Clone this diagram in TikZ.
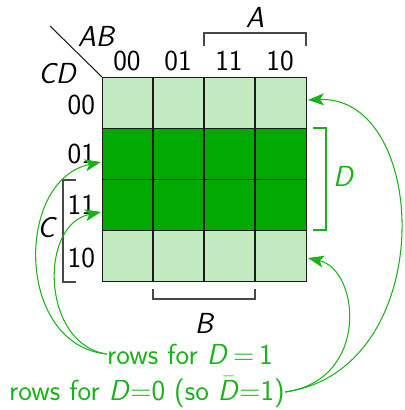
\documentclass[tikz,border=0pt]{standalone}
\usepackage{fontspec}
\renewcommand{\familydefault}{\sfdefault}
\usetikzlibrary{arrows.meta}
\definecolor{paleGreen}{HTML}{C2EBC2}
\definecolor{fullGreen}{HTML}{00AA00}
\definecolor{noteGreen}{HTML}{1AB21A}
\definecolor{gridInk}{HTML}{1A1A1A}

\tikzset{
  rowbox/.style={draw=gridInk, line width=0.6pt, minimum width=4.08cm,
    minimum height=1.02cm, inner sep=0pt, anchor=north west},
  label/.style={font=\fontsize{16.5}{20}\selectfont, inner sep=1pt},
  varname/.style={label, font=\fontsize{16.5}{20}\selectfont\itshape},
  note/.style={label, text=noteGreen, inner sep=0pt},
  bracket/.style={draw=gridInk!80, line width=0.6pt},
  pointer/.style={draw=noteGreen, line width=0.6pt,
    -{Stealth[length=3.2mm, width=2.4mm, inset=0.8mm]}}
}

\begin{document}
\begin{tikzpicture}[x=0.02cm, y=-0.02cm]
\useasboundingbox (0,0) rectangle (405,410);

% rows of the map
\node[rowbox, fill=paleGreen] (row00) at (102,77) {};
\node[rowbox, fill=fullGreen] (row01) at (102,128) {};
\node[rowbox, fill=fullGreen] (row11) at (102,179) {};
\node[rowbox, fill=paleGreen] (row10) at (102,230) {};
\draw[gridInk, line width=0.6pt] (153,77) -- (153,281) (204,77) -- (204,281) (255,77) -- (255,281);

% corner
\draw[gridInk, line width=0.6pt] (50,26) -- (row00.north west);
\node[varname] (ab) at (96,36) {AB};
\node[varname] (cd) at (57,74) {CD};

% column labels
\node[label] (c00) at (127,61) {00};
\node[label] (c01) at (178,61) {01};
\node[label] (c11) at (229,61) {11};
\node[label] (c10) at (280,61) {10};

% row labels
\node[label, anchor=east] (r00) at (97,105) {00};
\node[label, anchor=east] (r01) at (97,154) {01};
\node[label, anchor=east] (r11) at (97,205) {11};
\node[label, anchor=east] (r10) at (97,258) {10};

% brackets
\draw[bracket] (204,46) -- (204,33) -- (306,33) -- (306,46);
\node[varname] (a) at (255,17) {A};
\draw[bracket] (153,289) -- (153,299) -- (255,299) -- (255,289);
\node[varname] (b) at (204,323) {B};
\draw[bracket] (76,180) -- (63,180) -- (63,282) -- (76,282);
\node[varname] (c) at (46,228) {C};
\draw[bracket, draw=noteGreen] (313,128) -- (326,128) -- (326,230) -- (313,230);
\node[varname, text=noteGreen] (d) at (343,176) {D};

% notes
\node[note] (ones) at (190,354) {rows for \textit{D}\,=\,1};
\node[note] (zeros) at (147,392) {rows for \textit{D}=0 (so \ensuremath{\bar{\mbox{\textit{D}}}}=1)};

\coordinate (in01) at (101,162);
\coordinate (in11) at (101,212);
\coordinate (in00) at (308,100);
\coordinate (in10) at (308,258);
\draw[pointer] (ones.west) .. controls (15,345) and (15,180) .. (in01);
\draw[pointer] (ones.west) .. controls (42,345) and (38,225) .. (in11);
\draw[pointer] (zeros.east) .. controls (440,370) and (430,95) .. (in00);
\draw[pointer] (zeros.east) .. controls (370,380) and (360,270) .. (in10);
\end{tikzpicture}
\end{document}
